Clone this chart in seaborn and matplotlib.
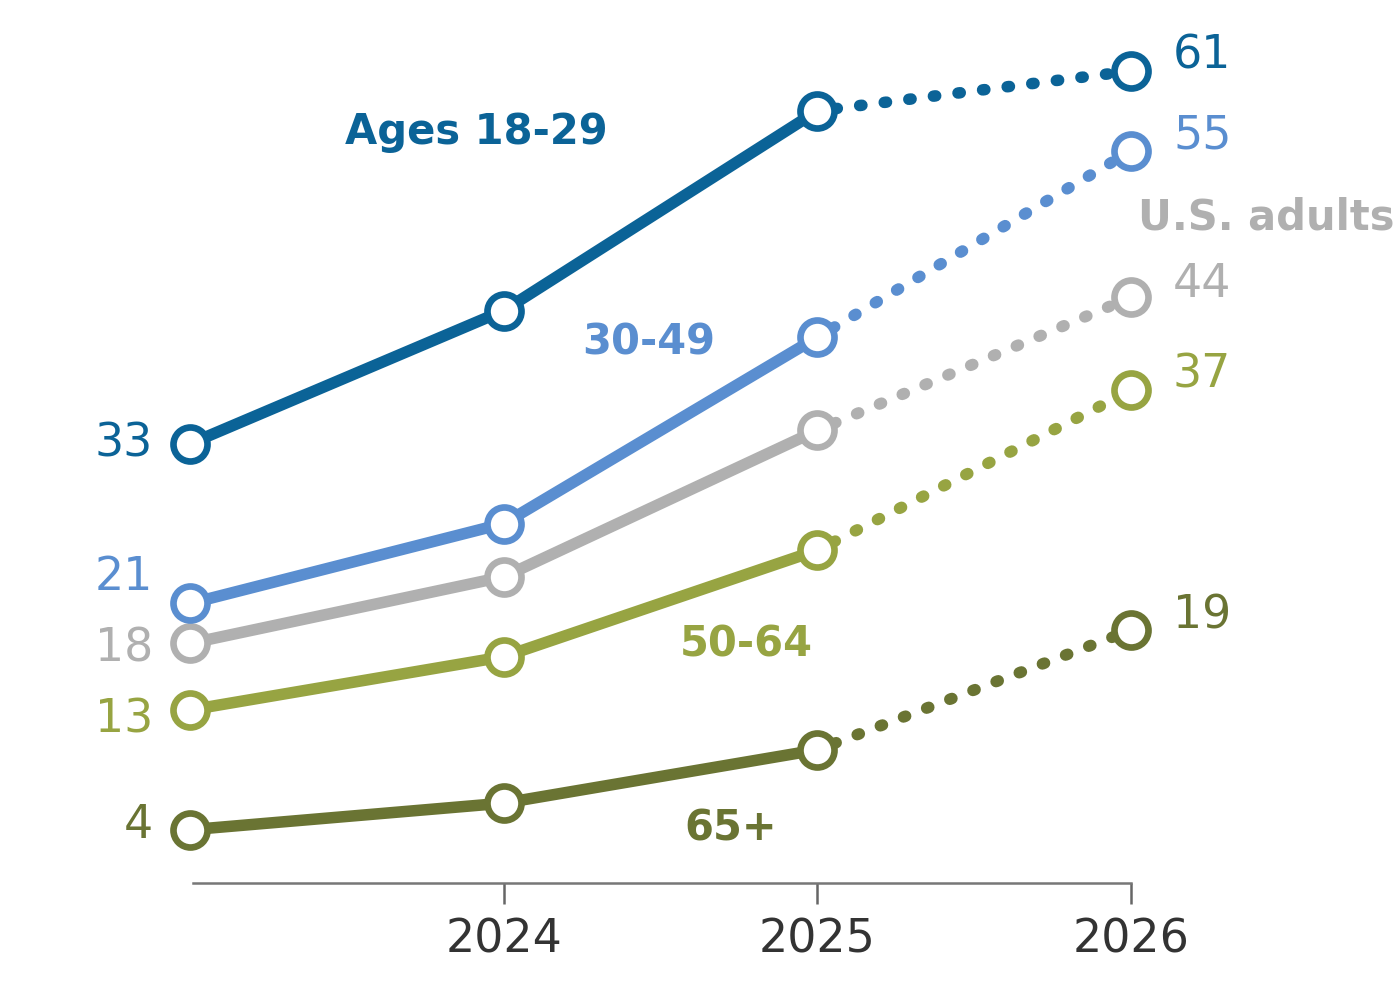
import matplotlib
matplotlib.use("Agg")
import matplotlib.pyplot as plt
import seaborn as sns
import pandas as pd

# ---- data ----
periods = ["2023", "2024", "2025", "2026"]
tick_labels = ["", "2024", "2025", "2026"]
groups = ["Ages 18-29", "30-49", "U.S. adults", "50-64", "65+"]
ages_18_29 = [33, 43, 58, 61]
ages_30_49 = [21, 27, 41, 55]
us_adults = [18, 23, 34, 44]
ages_50_64 = [13, 17, 25, 37]
ages_65_plus = [4, 6, 10, 19]
colors = ["#0B6397", "#5A8ED0", "#B0B0B0", "#97A442", "#6A7433"]

series = [ages_18_29, ages_30_49, us_adults, ages_50_64, ages_65_plus]

sns.set_theme(style="white")
plt.rcParams["font.family"] = ["DejaVu Sans"]

fig = plt.figure(figsize=(14, 10), dpi=100)
# axes: x from px 190 to 1131, y from 883 (0) to 71 (61)
ax = fig.add_axes([190 / 1400, 1 - 883 / 1000, (1131 - 190) / 1400, (883 - 71) / 1000])

xs = list(range(len(periods)))
rows = []
for g, vals in zip(groups, series):
    for i, v in enumerate(vals):
        rows.append({"group": g, "x": i, "value": v})
df = pd.DataFrame(rows)

LW = 8.3
for z, (g, c) in enumerate(zip(groups, colors)):
    d = df[df["group"] == g]
    solid = d[d["x"] <= 2]
    dotted = d[d["x"] >= 2]
    sns.lineplot(data=dotted, x="x", y="value", ax=ax, color=c, lw=LW,
                 linestyle=(0.6, (0.2, 1.95)), dash_capstyle="round",
                 clip_on=False, zorder=10 - z, sort=False)
    sns.lineplot(data=solid, x="x", y="value", ax=ax, color=c, lw=LW,
                 solid_capstyle="round", clip_on=False, zorder=10 - z, sort=False)
    sns.scatterplot(data=d, x="x", y="value", ax=ax, s=600, color="white",
                    edgecolor=c, linewidth=4.8, clip_on=False, zorder=20 - z)

# value labels
left_off = [0, 26, -6, -10, 4]
right_off = [15, 15, 13, 15, 14]
for vals, c, lo, ro in zip(series, colors, left_off, right_off):
    ax.annotate(str(vals[0]), xy=(0, vals[0]), xytext=(-37, lo),
                textcoords="offset pixels", ha="right", va="center",
                fontsize=33, color=c, annotation_clip=False)
    ax.annotate(str(vals[-1]), xy=(3, vals[-1]), xytext=(42, ro),
                textcoords="offset pixels", ha="left", va="center",
                fontsize=33, color=c, annotation_clip=False)

# series name labels
name_kw = dict(fontsize=30, fontweight="bold", va="center", clip_on=False)
ax.text(0.912, 56.4, groups[0], color=colors[0], ha="center", **name_kw)
ax.text(1.463, 40.6, groups[1], color=colors[1], ha="center", **name_kw)
ax.text(3.022, 50.0, groups[2], color=colors[2], ha="left", **name_kw)
ax.text(1.773, 17.9, groups[3], color=colors[3], ha="center", **name_kw)
ax.text(1.725, 4.06, groups[4], color=colors[4], ha="center", **name_kw)

ax.set_xlim(0, 3)
ax.set_ylim(0, 61)
ax.set_xticks(xs)
ax.set_xticklabels(tick_labels)
ax.set_yticks([])
ax.set_xlabel("")
ax.set_ylabel("")
for s in ["top", "right", "left"]:
    ax.spines[s].set_visible(False)
ax.spines["bottom"].set_color("#777777")
ax.spines["bottom"].set_linewidth(1.8)
ax.spines["bottom"].set_bounds(0.01, 3)
ax.tick_params(axis="x", direction="out", length=15, width=1.8, color="#666666",
               labelsize=33, labelcolor="#333333", pad=10, bottom=True)
ax.xaxis.get_major_ticks()[0].tick1line.set_visible(False)
ax.patch.set_alpha(0)

fig.savefig("out.png", dpi=100, facecolor="white")
